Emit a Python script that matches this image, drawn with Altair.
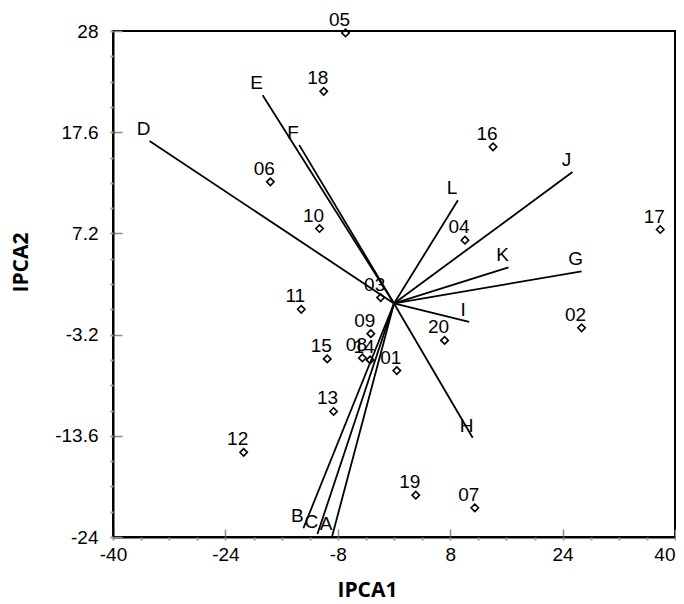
import altair as alt
import pandas as pd

# Genotype scores (points)
genotypes = ["01", "02", "03", "04", "05", "06", "07", "08", "09", "10",
             "11", "12", "13", "14", "15", "16", "17", "18", "19", "20"]
g_x = [0.4, 26.7, -1.9, 10.1, -6.9, -17.6, 11.5, -4.5, -3.3, -10.6,
       -13.2, -21.4, -8.6, -3.4, -9.5, 14.1, 37.9, -10.0, 3.1, 7.2]
g_y = [-6.9, -2.5, 0.6, 6.5, 27.8, 12.5, -21.0, -5.6, -3.1, 7.7,
       -0.6, -15.3, -11.1, -5.8, -5.7, 16.1, 7.6, 21.8, -19.7, -3.8]

# Environment vectors (lines from origin)
envs = ["A", "B", "C", "D", "E", "F", "G", "H", "I", "J", "K", "L"]
e_x = [-8.8, -12.9, -10.9, -34.8, -18.7, -13.5, 26.7, 11.2, 10.7, 25.4, 16.3, 9.1]
e_y = [-23.9, -23.1, -23.7, 16.7, 21.4, 16.3, 3.3, -13.8, -1.9, 13.5, 3.7, 10.6]

x_major = [-40, -24, -8, 8, 24, 40]
y_major = [-24, -13.6, -3.2, 7.2, 17.6, 28]
x_minor = [-40 + 4 * i for i in range(21)]
y_minor = [round(-24 + 2.6 * i, 1) for i in range(21)]

pts = pd.DataFrame({"label": genotypes, "x": g_x, "y": g_y})
vec = pd.DataFrame({"label": envs, "x": e_x, "y": e_y,
                    "ox": [0.0] * len(envs), "oy": [0.0] * len(envs)})

xscale = alt.Scale(domain=[-40, 40], nice=False, zero=False)
yscale = alt.Scale(domain=[-24, 28], nice=False, zero=False)

FONT = "Liberation Sans"

x_major_axis = alt.Axis(
    orient="bottom", values=x_major, labelExpr="'' + datum.value",
    title="IPCA1", grid=False,
    domainColor="black", domainWidth=2,
    tickColor="#8a8a8a", tickWidth=1.5, tickSize={"expr": "-8"},
    labelFont=FONT, labelFontSize=19, labelColor="black", labelPadding=16,
    labelFlush=False, labelOverlap=False,
    labelAlign={"condition": {"test": "datum.value == 40", "value": "right"}, "value": "center"},
    titleFont="Open Sans", titleFontSize=21, titleFontWeight="bold", titleColor="black",
    titleX=254, titleY=53, titleBaseline="middle", titleAlign="center",
)
y_major_axis = alt.Axis(
    orient="left", values=y_major, labelExpr="'' + datum.value",
    title="IPCA2", grid=False,
    domainColor="black", domainWidth=2,
    tickColor="#8a8a8a", tickWidth=1.5, tickSize={"expr": "-9"},
    labelFont=FONT, labelFontSize=19, labelColor="black", labelPadding=24,
    labelFlush=False, labelOverlap=False,
    titleFont="Open Sans", titleFontSize=21, titleFontWeight="bold", titleColor="black",
    titleX=-92, titleY=231, titleBaseline="middle", titleAlign="center", titleAngle=270,
)
x_minor_axis = alt.Axis(
    orient="bottom", values=x_minor, labels=False, domain=False, grid=False,
    title=None, tickColor="#9a9a9a", tickWidth=2, tickSize=3,
)
y_minor_axis = alt.Axis(
    orient="left", values=y_minor, labels=False, domain=False, grid=False,
    title=None, tickColor="#9a9a9a", tickWidth=2, tickSize=3,
)

rules = alt.Chart(vec).mark_rule(color="black", strokeWidth=1.8).encode(
    x=alt.X("ox:Q", scale=xscale, axis=x_major_axis),
    y=alt.Y("oy:Q", scale=yscale, axis=y_major_axis),
    x2="x:Q",
    y2="y:Q",
)

vec_text = alt.Chart(vec).mark_text(
    font=FONT, fontSize=19, color="black", align="center", baseline="alphabetic",
    dx=-6, dy=-6,
).encode(
    x=alt.X("x:Q", scale=xscale, axis=None),
    y=alt.Y("y:Q", scale=yscale, axis=None),
    text="label:N",
)

points = alt.Chart(pts).mark_point(
    shape="diamond", filled=False, color="black", size=55, strokeWidth=1.6, opacity=1,
).encode(
    x=alt.X("x:Q", scale=xscale, axis=x_minor_axis),
    y=alt.Y("y:Q", scale=yscale, axis=y_minor_axis),
)

pt_text = alt.Chart(pts).mark_text(
    font=FONT, fontSize=19, color="black", align="center", baseline="alphabetic",
    dx=-6, dy=-7,
).encode(
    x=alt.X("x:Q", scale=xscale, axis=None),
    y=alt.Y("y:Q", scale=yscale, axis=None),
    text="label:N",
)

chart = alt.layer(rules, points, vec_text, pt_text).resolve_axis(
    x="independent", y="independent"
).properties(
    width=562, height=506,
    autosize=alt.AutoSizeParams(type="none"),
    padding={"left": 105, "top": 23, "right": 1, "bottom": 62},
    background="white",
).configure_view(stroke="black", strokeWidth=2)

chart.save("out.html", embed_options={"renderer": "svg", "actions": False})
